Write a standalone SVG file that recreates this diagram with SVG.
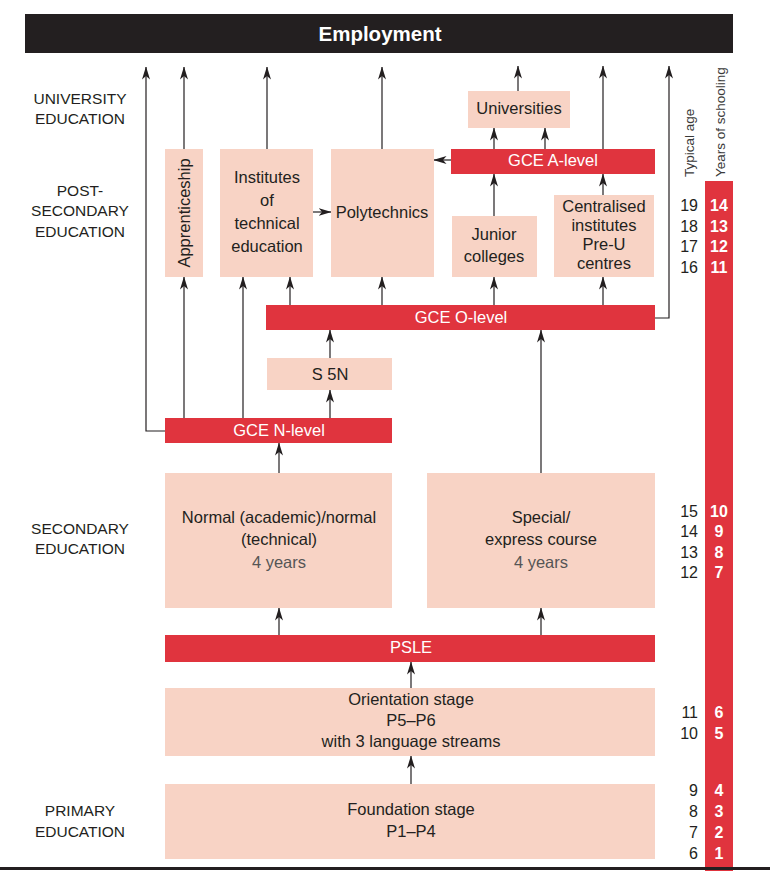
<svg xmlns="http://www.w3.org/2000/svg" width="770" height="871" viewBox="0 0 770 871">
<defs>
<marker id="ah" viewBox="0 0 13 8" refX="12.5" refY="4" markerWidth="13" markerHeight="8" markerUnits="userSpaceOnUse" orient="auto">
<path d="M0,0 L13,4 L0,8 L3.5,4 Z" fill="#231f20"/>
</marker>
<style>
.box{fill:#f8d3c5}
.bar{fill:#e0343e}
.t{font-family:"Liberation Sans",Arial,sans-serif;font-size:16.5px;fill:#231f20;text-anchor:middle;dominant-baseline:central}
.w{font-family:"Liberation Sans",Arial,sans-serif;font-size:16.5px;fill:#ffffff;text-anchor:middle;dominant-baseline:central}
.g{fill:#555555}
.lab{font-family:"Liberation Sans",Arial,sans-serif;font-size:15.5px;fill:#231f20;text-anchor:middle;dominant-baseline:central}
.num{font-family:"Liberation Sans",Arial,sans-serif;font-size:16px;fill:#231f20;text-anchor:end;dominant-baseline:central}
.yn{font-family:"Liberation Sans",Arial,sans-serif;font-size:16px;font-weight:bold;fill:#ffffff;text-anchor:middle;dominant-baseline:central}
.rot{font-family:"Liberation Sans",Arial,sans-serif;font-size:13.5px;fill:#3a3a3a;text-anchor:start;dominant-baseline:central}
.a{fill:none;stroke:#231f20;stroke-width:1.2;marker-end:url(#ah)}
</style>
</defs>
<rect width="770" height="871" fill="#ffffff"/>

<g id="employment">
<rect x="25" y="14" width="708" height="39" fill="#231f20"/>
<text x="380" y="33" font-family="Liberation Sans, Arial, sans-serif" font-size="20.5" font-weight="bold" fill="#ffffff" text-anchor="middle" dominant-baseline="central">Employment</text>
</g>

<g id="stage-labels">
<text class="lab" x="80" y="98">UNIVERSITY</text>
<text class="lab" x="80" y="118">EDUCATION</text>
<text class="lab" x="80" y="190">POST-</text>
<text class="lab" x="80" y="210">SECONDARY</text>
<text class="lab" x="80" y="231">EDUCATION</text>
<text class="lab" x="80" y="528">SECONDARY</text>
<text class="lab" x="80" y="548">EDUCATION</text>
<text class="lab" x="80" y="810">PRIMARY</text>
<text class="lab" x="80" y="831">EDUCATION</text>
</g>

<g id="connectors">
<polyline class="a" points="165,431 146,431 146,67"/>
<line class="a" x1="184" y1="150" x2="184" y2="67"/>
<line class="a" x1="267" y1="149" x2="267" y2="67"/>
<line class="a" x1="382" y1="149" x2="382" y2="67"/>
<line class="a" x1="518" y1="91" x2="518" y2="66"/>
<line class="a" x1="603" y1="149" x2="603" y2="66"/>
<polyline class="a" points="655,318 669,318 669,66"/>
<line class="a" x1="313" y1="212" x2="331" y2="212"/>
<line class="a" x1="451" y1="160" x2="434" y2="160"/>
<line class="a" x1="494" y1="149" x2="494" y2="128"/>
<line class="a" x1="545" y1="149" x2="545" y2="128"/>
<line class="a" x1="494" y1="216" x2="494" y2="174"/>
<line class="a" x1="603" y1="195" x2="603" y2="174"/>
<line class="a" x1="290" y1="305" x2="290" y2="277"/>
<line class="a" x1="382" y1="305" x2="382" y2="277"/>
<line class="a" x1="494" y1="305" x2="494" y2="277"/>
<line class="a" x1="603" y1="305" x2="603" y2="277"/>
<line class="a" x1="184" y1="418" x2="184" y2="277"/>
<line class="a" x1="243" y1="418" x2="243" y2="277"/>
<line class="a" x1="330" y1="418" x2="330" y2="390"/>
<line class="a" x1="330" y1="358" x2="330" y2="330"/>
<line class="a" x1="541" y1="473" x2="541" y2="330"/>
<line class="a" x1="279" y1="473" x2="279" y2="443"/>
<line class="a" x1="279" y1="635" x2="279" y2="608"/>
<line class="a" x1="541" y1="635" x2="541" y2="608"/>
<line class="a" x1="411" y1="688" x2="411" y2="662"/>
<line class="a" x1="411" y1="784" x2="411" y2="756"/>
</g>

<g id="apprenticeship">
<rect class="box" x="165" y="149" width="38" height="128"/>
<text class="t" transform="translate(184,213) rotate(-90)">Apprenticeship</text>
</g>
<g id="institutes">
<rect class="box" x="220" y="149" width="93" height="128"/>
<text class="t" x="267" y="177">Institutes</text>
<text class="t" x="267" y="200">of</text>
<text class="t" x="267" y="223">technical</text>
<text class="t" x="267" y="246">education</text>
</g>
<g id="polytechnics">
<rect class="box" x="331" y="149" width="103" height="128"/>
<text class="t" x="382" y="212">Polytechnics</text>
</g>
<g id="universities">
<rect class="box" x="468" y="91" width="102" height="37"/>
<text class="t" x="519" y="108">Universities</text>
</g>
<g id="gce-a-level">
<rect class="bar" x="451" y="149" width="204" height="25"/>
<text class="w" x="553" y="160">GCE A-level</text>
</g>
<g id="junior-colleges">
<rect class="box" x="452" y="216" width="85" height="61"/>
<text class="t" x="494" y="234">Junior</text>
<text class="t" x="494" y="256">colleges</text>
</g>
<g id="centralised">
<rect class="box" x="554" y="195" width="100" height="82"/>
<text class="t" x="604" y="206">Centralised</text>
<text class="t" x="604" y="225">institutes</text>
<text class="t" x="604" y="244">Pre-U</text>
<text class="t" x="604" y="263">centres</text>
</g>
<g id="gce-o-level">
<rect class="bar" x="266" y="305" width="389" height="25"/>
<text class="w" x="461" y="317">GCE O-level</text>
</g>
<g id="s5n">
<rect class="box" x="267" y="358" width="125" height="32"/>
<text class="t" x="330" y="374">S  5N</text>
</g>
<g id="gce-n-level">
<rect class="bar" x="165" y="418" width="227" height="25"/>
<text class="w" x="279" y="430">GCE N-level</text>
</g>
<g id="normal">
<rect class="box" x="165" y="473" width="227" height="135"/>
<text class="t" x="279" y="517">Normal (academic)/normal</text>
<text class="t" x="279" y="539">(technical)</text>
<text class="t g" x="279" y="562">4 years</text>
</g>
<g id="special">
<rect class="box" x="427" y="473" width="228" height="135"/>
<text class="t" x="541" y="517">Special/</text>
<text class="t" x="541" y="539">express course</text>
<text class="t g" x="541" y="562">4 years</text>
</g>
<g id="psle">
<rect class="bar" x="165" y="635" width="490" height="27"/>
<text class="w" x="411" y="647">PSLE</text>
</g>
<g id="orientation">
<rect class="box" x="165" y="688" width="490" height="68"/>
<text class="t" x="411" y="699">Orientation stage</text>
<text class="t" x="411" y="720">P5–P6</text>
<text class="t" x="411" y="741">with 3 language streams</text>
</g>
<g id="foundation">
<rect class="box" x="165" y="784" width="490" height="75"/>
<text class="t" x="411" y="809">Foundation stage</text>
<text class="t" x="411" y="831">P1–P4</text>
</g>

<g id="scale">
<text class="rot" transform="translate(689,177) rotate(-90)">Typical age</text>
<text class="rot" transform="translate(720,177) rotate(-90)">Years of schooling</text>
<rect class="bar" x="705" y="181" width="28" height="690"/>
<text class="num" x="698" y="205">19</text><text class="yn" x="719" y="205">14</text>
<text class="num" x="698" y="226">18</text><text class="yn" x="719" y="226">13</text>
<text class="num" x="698" y="246">17</text><text class="yn" x="719" y="246">12</text>
<text class="num" x="698" y="267">16</text><text class="yn" x="719" y="267">11</text>
<text class="num" x="698" y="511">15</text><text class="yn" x="719" y="511">10</text>
<text class="num" x="698" y="531">14</text><text class="yn" x="719" y="531">9</text>
<text class="num" x="698" y="552">13</text><text class="yn" x="719" y="552">8</text>
<text class="num" x="698" y="572">12</text><text class="yn" x="719" y="572">7</text>
<text class="num" x="698" y="712">11</text><text class="yn" x="719" y="712">6</text>
<text class="num" x="698" y="733">10</text><text class="yn" x="719" y="733">5</text>
<text class="num" x="698" y="790">9</text><text class="yn" x="719" y="790">4</text>
<text class="num" x="698" y="811">8</text><text class="yn" x="719" y="811">3</text>
<text class="num" x="698" y="832">7</text><text class="yn" x="719" y="832">2</text>
<text class="num" x="698" y="853">6</text><text class="yn" x="719" y="853">1</text>
</g>
<rect x="0" y="867" width="770" height="3" fill="#231f20"/>
</svg>
